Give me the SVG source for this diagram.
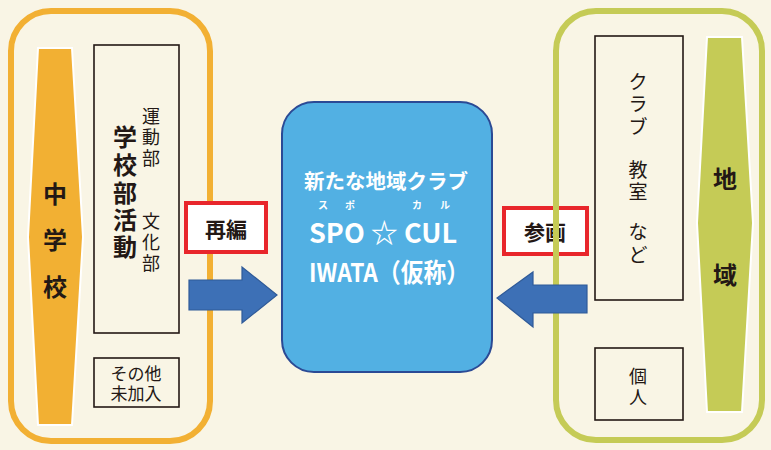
<svg xmlns="http://www.w3.org/2000/svg" width="771" height="450" viewBox="0 0 771 450">
<style>
text{font-family:"Noto Sans CJK JP","Liberation Sans",sans-serif;text-anchor:middle;dominant-baseline:central;fill:#231815}
.box{fill:none;stroke:#231815;stroke-width:1.6}
.lbl{fill:#fff;stroke:#e8262b;stroke-width:4}
.arrow{fill:#3d70b6;stroke:#2f5a98;stroke-width:1.2}
.w{fill:#fff;font-weight:bold}
.b{font-weight:bold}
</style>
<rect width="771" height="450" fill="#f9f5e5"/>
<g id="school">
<rect x="11" y="11" width="199" height="430" rx="40" fill="none" stroke="#f2b033" stroke-width="6"/>
<polygon points="38,48 72,48 83,237 72,425 38,425 28,237" fill="#f2b033" stroke="#fff" stroke-width="2"/>
<text class="b" x="55" y="192" font-size="24">中</text>
<text class="b" x="55" y="238" font-size="24">学</text>
<text class="b" x="55" y="285" font-size="24">校</text>
</g>
<g id="club">
<rect class="box" x="94" y="45" width="85" height="288"/>
<text class="b" x="125" y="135" font-size="24">学</text>
<text class="b" x="125" y="163" font-size="24">校</text>
<text class="b" x="125" y="191" font-size="24">部</text>
<text class="b" x="125" y="218" font-size="24">活</text>
<text class="b" x="125" y="245" font-size="24">動</text>
<text x="151" y="115" font-size="18">運</text>
<text x="151" y="136" font-size="18">動</text>
<text x="151" y="157" font-size="18">部</text>
<text x="151" y="220" font-size="18">文</text>
<text x="151" y="241" font-size="18">化</text>
<text x="151" y="262" font-size="18">部</text>
</g>
<g id="other">
<rect class="box" x="94" y="358" width="85" height="49"/>
<text x="136" y="372" font-size="17">その他</text>
<text x="136" y="392" font-size="17">未加入</text>
</g>
<g id="saihen">
<rect class="lbl" x="186" y="203" width="80" height="49"/>
<text class="b" x="226" y="228" font-size="21">再編</text>
</g>
<g id="newclub">
<rect x="282" y="102" width="210" height="270" rx="32" fill="#52b0e3" stroke="#2b4a95" stroke-width="2"/>
<text class="w" x="386" y="180" font-size="20.5">新たな地域クラブ</text>
<text class="w" x="323" y="204" font-size="10">ス</text>
<text class="w" x="350" y="204" font-size="10">ポ</text>
<text class="w" x="417" y="204" font-size="10">カ</text>
<text class="w" x="445" y="204" font-size="10">ル</text>
<text class="w" x="383" y="231" font-size="27" textLength="148" lengthAdjust="spacingAndGlyphs">SPO ☆ CUL</text>
<text class="w" x="389" y="270" font-size="26" textLength="160" lengthAdjust="spacingAndGlyphs">IWATA（仮称）</text>
</g>
<g id="sankaku">
<rect class="lbl" x="504" y="208" width="83" height="46"/>
<text class="b" x="545" y="231" font-size="21">参画</text>
</g>
<g id="region">
<rect x="556" y="11" width="206" height="429" rx="40" fill="none" stroke="#c5cb56" stroke-width="6"/>
<polygon points="707,37 742,37 753,223 742,412 707,412 697,223" fill="#c5cb56" stroke="#fff" stroke-width="2"/>
<text class="b" x="725" y="177" font-size="24">地</text>
<text class="b" x="725" y="273" font-size="24">域</text>
</g>
<g id="clubroom">
<rect class="box" x="595" y="36" width="88" height="264"/>
<text x="638" y="80" font-size="19">ク</text>
<text x="638" y="102" font-size="19">ラ</text>
<text x="638" y="125" font-size="19">ブ</text>
<text x="638" y="168" font-size="19">教</text>
<text x="638" y="190" font-size="19">室</text>
<text x="638" y="230" font-size="19">な</text>
<text x="638" y="253" font-size="19">ど</text>
</g>
<g id="individual">
<rect class="box" x="595" y="348" width="88" height="72"/>
<text x="638" y="375" font-size="18">個</text>
<text x="638" y="396" font-size="18">人</text>
</g>
<g id="connectors">
<polygon class="arrow" points="189,280 242,280 242,267 277,295 242,323 242,310 189,310"/>
<polygon class="arrow" points="587,285 533,285 533,272 497,298 533,327 533,313 587,313"/>
</g>
</svg>
